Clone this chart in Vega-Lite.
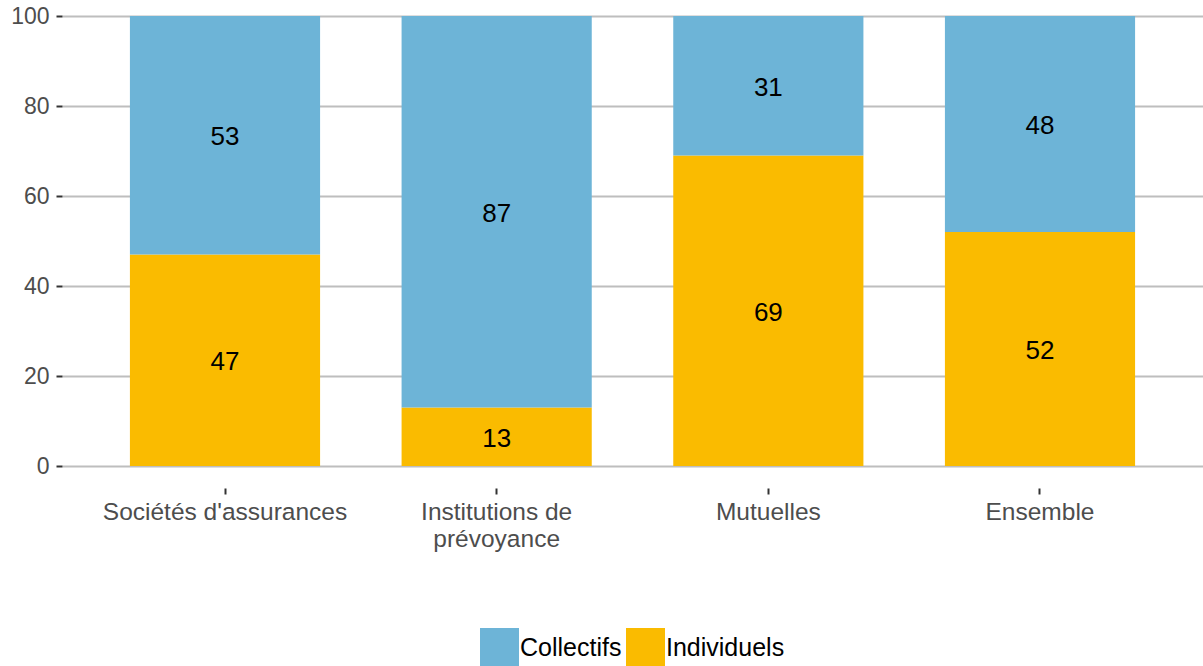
{
  "$schema": "https://vega.github.io/schema/vega-lite/v6.json",
  "width": 1141,
  "height": 450,
  "autosize": {"type": "none"},
  "padding": {"left": 62, "top": 16, "right": 0, "bottom": 200},
  "background": "white",
  "config": {
    "view": {"stroke": null},
    "font": "Liberation Sans"
  },
  "data": {
    "values": [
      {"categorie": "Sociétés d'assurances", "serie": "Individuels", "valeur": 47},
      {"categorie": "Sociétés d'assurances", "serie": "Collectifs", "valeur": 53},
      {"categorie": "Institutions de prévoyance", "serie": "Individuels", "valeur": 13},
      {"categorie": "Institutions de prévoyance", "serie": "Collectifs", "valeur": 87},
      {"categorie": "Mutuelles", "serie": "Individuels", "valeur": 69},
      {"categorie": "Mutuelles", "serie": "Collectifs", "valeur": 31},
      {"categorie": "Ensemble", "serie": "Individuels", "valeur": 52},
      {"categorie": "Ensemble", "serie": "Collectifs", "valeur": 48}
    ]
  },
  "encoding": {
    "x": {
      "field": "categorie",
      "type": "nominal",
      "sort": null,
      "scale": {"paddingInner": 0.3, "paddingOuter": 0.25},
      "axis": {
        "title": null,
        "domain": false,
        "grid": false,
        "labelAngle": 0,
        "labelFontSize": 24.5,
        "labelColor": "#4d4d4d",
        "labelPadding": 6,
        "labelLimit": 0,
        "labelLineHeight": 27,
        "labelExpr": "datum.label == 'Institutions de prévoyance' ? ['Institutions de', 'prévoyance'] : datum.label",
        "tickColor": "#333333",
        "tickSize": 6,
        "tickWidth": 2,
        "offset": 22
      }
    }
  },
  "layer": [
    {
      "mark": {"type": "bar"},
      "encoding": {
        "y": {
          "field": "valeur",
          "type": "quantitative",
          "stack": "zero",
          "scale": {"domain": [0, 100], "nice": false},
          "axis": {
            "title": null,
            "domain": false,
            "values": [0, 20, 40, 60, 80, 100],
            "labelFontSize": 23,
            "labelColor": "#4d4d4d",
            "labelPadding": 7,
            "tickColor": "#333333",
            "tickSize": 6,
            "tickWidth": 2,
            "gridColor": "#bebebe",
            "gridWidth": 2
          }
        },
        "color": {
          "field": "serie",
          "type": "nominal",
          "scale": {"domain": ["Collectifs", "Individuels"], "range": ["#6db4d7", "#fabb00"]},
          "legend": {
            "title": null,
            "orient": "none",
            "direction": "horizontal",
            "legendX": 418,
            "legendY": 612,
            "symbolType": "square",
            "symbolSize": 1521,
            "symbolStrokeWidth": 0,
            "symbolOpacity": 1,
            "labelFontSize": 25,
            "labelColor": "#000000",
            "labelOffset": 1,
            "columnPadding": 4
          }
        },
        "order": {"field": "serie", "sort": "descending"}
      }
    },
    {
      "transform": [
        {"stack": "valeur", "groupby": ["categorie"], "sort": [{"field": "serie", "order": "descending"}], "as": ["v0", "v1"]},
        {"calculate": "(datum.v0 + datum.v1) / 2", "as": "milieu"}
      ],
      "mark": {"type": "text", "fontSize": 26, "color": "#000000", "baseline": "middle", "align": "center", "dy": 2},
      "encoding": {
        "y": {"field": "milieu", "type": "quantitative"},
        "text": {"field": "valeur", "type": "quantitative"}
      }
    }
  ]
}
